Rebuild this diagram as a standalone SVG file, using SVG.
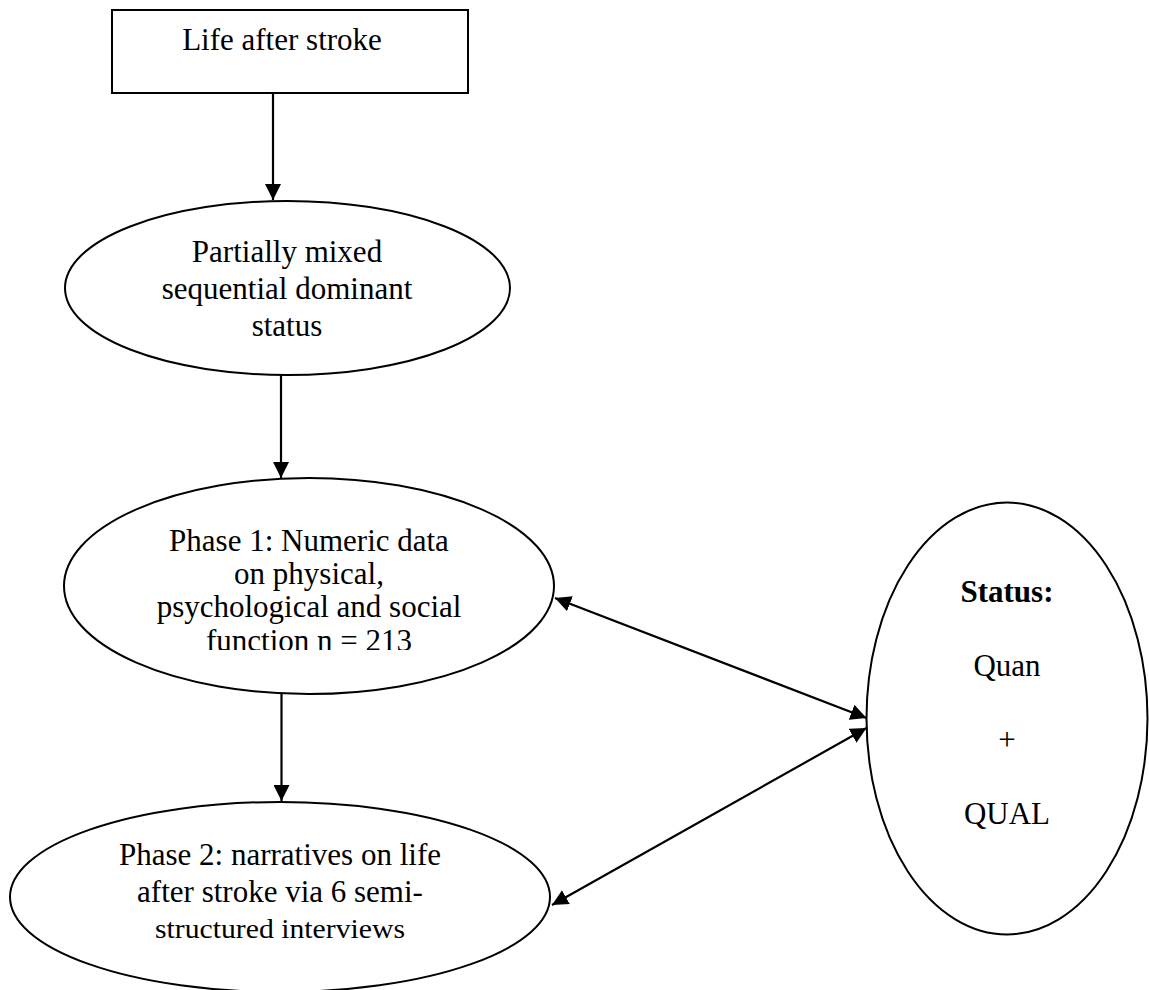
<svg xmlns="http://www.w3.org/2000/svg" width="1149" height="990" viewBox="0 0 1149 990">
<style>
.shape{fill:#fff;stroke:#000;stroke-width:2}
.conn{stroke:#000;stroke-width:2.2;fill:none}
.t{font-family:"Liberation Serif","Times New Roman",serif;font-size:31px;fill:#000;text-anchor:middle}
.b{font-weight:bold}
.g{font-size:27px}
</style>
<defs>
<marker id="ah" markerUnits="userSpaceOnUse" markerWidth="16" markerHeight="16" refX="15" refY="7.5" orient="auto-start-reverse" viewBox="0 0 15 15">
<path d="M0,0 L15,7.5 L0,15 z" fill="#000"/>
</marker>
<clipPath id="clip1"><rect x="0" y="470" width="600" height="180"/></clipPath>
</defs>
<rect width="1149" height="990" fill="#fff"/>
<g id="connectors">
<line class="conn" x1="273" y1="93" x2="273" y2="200" marker-end="url(#ah)"/>
<line class="conn" x1="281" y1="372" x2="281" y2="478" marker-end="url(#ah)"/>
<line class="conn" x1="281.5" y1="694" x2="281.5" y2="801" marker-end="url(#ah)"/>
<line class="conn" x1="555" y1="598" x2="866.5" y2="718" marker-start="url(#ah)" marker-end="url(#ah)"/>
<line class="conn" x1="552" y1="905" x2="866.5" y2="728" marker-start="url(#ah)" marker-end="url(#ah)"/>
</g>
<g id="node-life">
<rect class="shape" x="112" y="10" width="356" height="83"/>
<text class="t" x="282" y="50">Life after stroke</text>
</g>
<g id="node-partially">
<ellipse class="shape" cx="287.5" cy="288" rx="222.5" ry="87"/>
<text class="t" x="287" y="262">Partially mixed</text>
<text class="t" x="287" y="299">sequential dominant</text>
<text class="t" x="287" y="336">status</text>
</g>
<g id="node-phase1">
<ellipse class="shape" cx="309" cy="586" rx="245" ry="108"/>
<g clip-path="url(#clip1)">
<text class="t" x="309" y="551">Phase 1: Numeric data</text>
<text class="t" x="309" y="584">on physical,</text>
<text class="t" x="309" y="617">psychological and social</text>
<text class="t" x="309" y="651">function n = 213</text>
</g>
</g>
<g id="node-phase2">
<ellipse class="shape" cx="280" cy="897" rx="270" ry="95"/>
<text class="t" x="280" y="865">Phase 2: narratives on life</text>
<text class="t" x="280" y="902">after stroke via 6 semi-</text>
<text class="t g" x="280" y="938" textLength="250" lengthAdjust="spacingAndGlyphs">structured interviews</text>
</g>
<g id="node-status">
<ellipse class="shape" cx="1007" cy="718.5" rx="140.5" ry="216"/>
<text class="t b" x="1007" y="602">Status:</text>
<text class="t" x="1007" y="676">Quan</text>
<text class="t" x="1007" y="750">+</text>
<text class="t" x="1007" y="824">QUAL</text>
</g>
</svg>
